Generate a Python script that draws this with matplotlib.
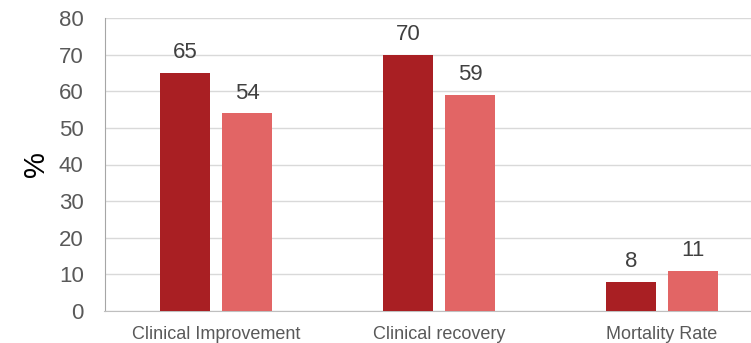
import matplotlib
matplotlib.use("Agg")
import matplotlib.pyplot as plt
import numpy as np

plt.rcParams['font.family'] = ['Liberation Sans', 'DejaVu Sans']

categories = ["Clinical Improvement", "Clinical recovery", "Mortality Rate"]
series_a = [65, 70, 8]
series_b = [54, 59, 11]
yticks = [0, 10, 20, 30, 40, 50, 60, 70, 80]

color_a = "#A91F23"
color_b = "#E26565"

fig = plt.figure(figsize=(7.51, 3.43), dpi=100)
ax = fig.add_axes([104.5 / 751, 1 - 311 / 343, 669 / 751, 293 / 343])

x = np.arange(len(categories))
w = 0.224
off = 0.139
ba = ax.bar(x - off, series_a, w, color=color_a, zorder=3)
bb = ax.bar(x + off, series_b, w, color=color_b, zorder=3)

for bars in (ba, bb):
    for r in bars:
        ax.annotate(f"{r.get_height():g}", (r.get_x() + r.get_width() / 2, r.get_height()),
                    xytext=(0, 7), textcoords="offset points", ha="center", va="bottom",
                    fontsize=16, color="#404040")

ax.set_xlim(-0.5, len(categories) - 0.5)
ax.set_ylim(0, 80)
ax.set_yticks(yticks)
ax.yaxis.grid(True, color="#D9D9D9", linewidth=1, zorder=0)
ax.set_axisbelow(True)
ax.tick_params(axis="y", length=0, labelsize=16, labelcolor="#595959", pad=15)
ax.tick_params(axis="x", length=0, labelsize=13, labelcolor="#595959", pad=11)
ax.set_xticks(x)
ax.set_xticklabels(categories)
for s in ("top", "right"):
    ax.spines[s].set_visible(False)
ax.spines["left"].set_color("#A6A6A6")
ax.spines["bottom"].set_color("#BFBFBF")
ax.set_ylabel("%", fontsize=21, color="black", labelpad=6)

fig.savefig("out.png", dpi=100)
